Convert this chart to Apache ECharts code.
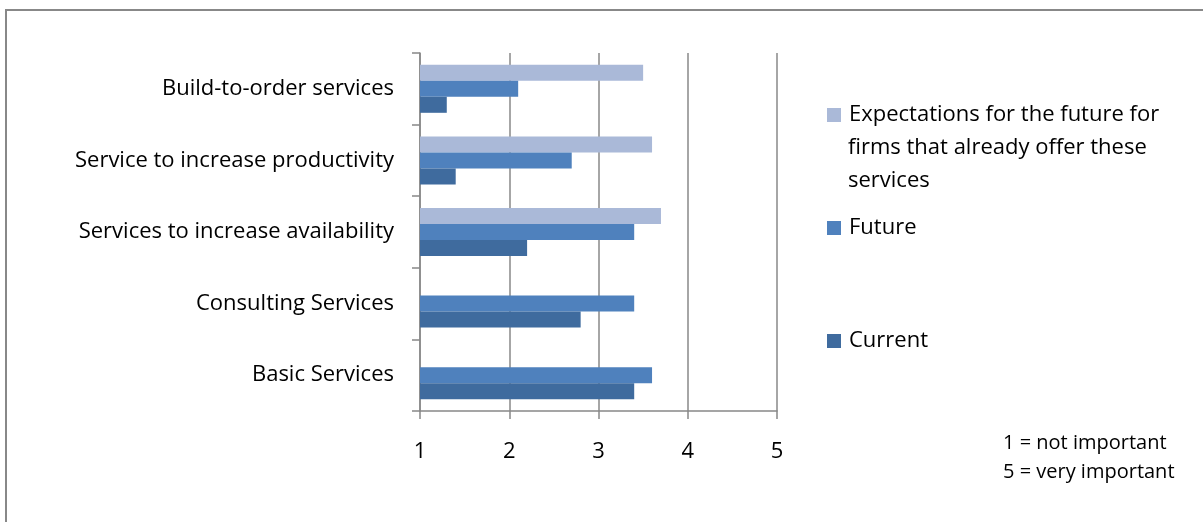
<!DOCTYPE html>
<html>
<head>
<meta charset="utf-8">
<script src="https://cdn.jsdelivr.net/npm/echarts@6/dist/echarts.min.js"></script>
<style>
html,body{margin:0;padding:0;background:#fff;}
#chart{width:1203px;height:522px;}
</style>
</head>
<body>
<div id="chart"></div>
<script>
const categories = ['Basic Services', 'Consulting Services', 'Services to increase availability', 'Service to increase productivity', 'Build-to-order services'];
const currentValues = [3.4, 2.8, 2.2, 1.4, 1.3];
const futureValues = [3.6, 3.4, 3.4, 2.7, 2.1];
const expectationValues = [null, null, 3.7, 3.6, 3.5];
const xTicks = [1, 2, 3, 4, 5];
const seriesNames = ['Current', 'Future', 'Expectations for the future for firms that already offer these services'];
const noteLines = ['1 = not important', '5 = very important'];

const FONT = '"Open Sans", sans-serif';
const colors = ['#3F6B9E', '#4F81BD', '#AAB9D8'];

const chart = echarts.init(document.getElementById('chart'), null, {renderer: 'canvas'});

function legendFor(name, top) {
  return {
    data: [name],
    orient: 'vertical',
    left: 827,
    top: top,
    padding: 0,
    itemWidth: 14,
    itemHeight: 14,
    itemGap: 6,
    icon: 'rect',
    selectedMode: false,
    formatter: function (n) {
      return n === seriesNames[2] ? 'Expectations for the future for' : n;
    },
    textStyle: {fontFamily: FONT, fontSize: 22, color: '#000', lineHeight: 24, padding: [0, 0, 0, 3]}
  };
}

const option = {
  animation: false,
  backgroundColor: '#fff',
  textStyle: {fontFamily: FONT},
  grid: {left: 420, top: 53, width: 357, height: 358, containLabel: false},
  legend: [
    legendFor(seriesNames[2], 103),
    legendFor(seriesNames[1], 216),
    legendFor(seriesNames[0], 329)
  ],
  xAxis: {
    type: 'value',
    min: 1,
    max: 5,
    interval: 1,
    axisLine: {show: true, lineStyle: {color: '#888888', width: 1.5}},
    axisTick: {show: true, length: 8, lineStyle: {color: '#888888', width: 1.5}},
    splitLine: {show: true, lineStyle: {color: '#888888', width: 1.5}},
    axisLabel: {
      margin: 30,
      fontFamily: FONT, fontSize: 22, color: '#000',
      formatter: function (v) { return xTicks.indexOf(v) >= 0 ? String(v) : ''; }
    }
  },
  yAxis: {
    type: 'category',
    data: categories,
    axisLine: {show: true, lineStyle: {color: '#888888', width: 1.5}},
    axisTick: {show: true, length: 8, alignWithLabel: false, lineStyle: {color: '#888888', width: 1.5}},
    splitLine: {show: false},
    axisLabel: {margin: 26, fontFamily: FONT, fontSize: 22, color: '#000'}
  },
  series: [
    {name: seriesNames[2], type: 'bar', data: expectationValues, barWidth: 16, barGap: '0%', itemStyle: {color: colors[2]}},
    {name: seriesNames[1], type: 'bar', data: futureValues, barWidth: 16, barGap: '0%', itemStyle: {color: colors[1]}},
    {name: seriesNames[0], type: 'bar', data: currentValues, barWidth: 16, barGap: '0%', itemStyle: {color: colors[0]}}
  ],
  graphic: [
    {type: 'rect', shape: {x: 6, y: 10, width: 1400, height: 700}, style: {fill: 'none', stroke: '#888888', lineWidth: 2}, silent: true},
    {type: 'text', style: {x: 848, y: 148, text: 'firms that already offer these', font: '22px ' + FONT, fill: '#000', verticalAlign: 'middle'}},
    {type: 'text', style: {x: 848, y: 181, text: 'services', font: '22px ' + FONT, fill: '#000', verticalAlign: 'middle'}},
    {type: 'text', style: {x: 1003, y: 443, text: noteLines[0], font: '20px ' + FONT, fill: '#000', verticalAlign: 'middle'}},
    {type: 'text', style: {x: 1003, y: 472, text: noteLines[1], font: '20px ' + FONT, fill: '#000', verticalAlign: 'middle'}}
  ]
};
chart.setOption(option);
</script>
</body>
</html>
